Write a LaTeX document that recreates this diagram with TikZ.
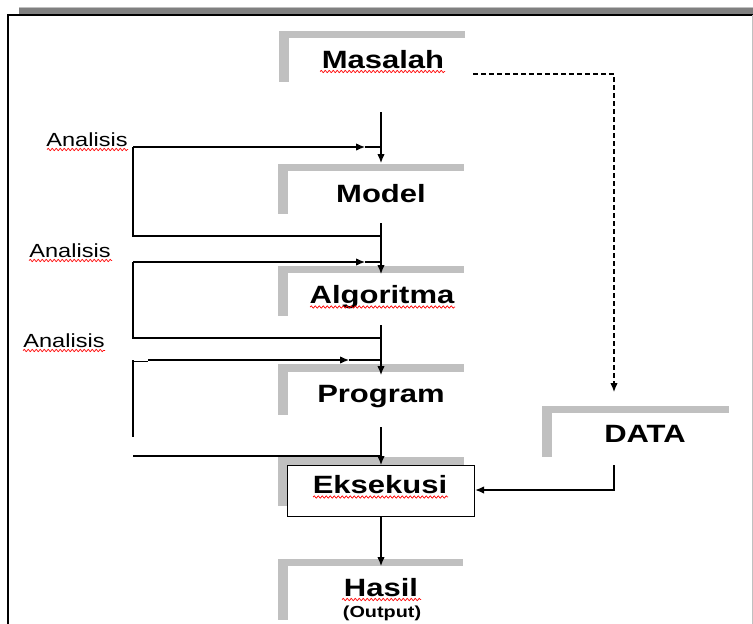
\documentclass[tikz,border=0pt]{standalone}
\usepackage{fontspec}
\setmainfont{Liberation Sans}
\usetikzlibrary{arrows.meta,decorations.pathmorphing}
\definecolor{brgray}{HTML}{C0C0C0}
\definecolor{bandgray}{HTML}{808080}
\newcommand\hstr[1]{\scalebox{1.24}[1]{#1}}
\begin{document}
\begin{tikzpicture}[x=1pt,y=-1pt,
  lbl/.style={anchor=base,inner sep=0pt,font=\fontsize{25}{25}\selectfont\bfseries},
  ana/.style={anchor=base,inner sep=0pt,font=\fontsize{19}{19}\selectfont},
  small/.style={anchor=base,inner sep=0pt,font=\fontsize{16}{16}\selectfont\bfseries},
  ln/.style={line width=1.2pt},
  arr/.style={line width=1.2pt,-{Latex[length=9pt,width=7.5pt]}},
  dsh/.style={line width=1.2pt,dash pattern=on 5pt off 3pt,-{Latex[length=9pt,width=7.5pt]}},
  wave/.style={draw=red,line width=0.7pt,decorate,decoration={snake,segment length=4pt,amplitude=1.1pt}},
  brk/.style={fill=brgray,draw=none}]
\useasboundingbox (0,0) rectangle (753,624);
% frame
\fill[bandgray] (19,7) rectangle (753,14.5);
\draw[brgray,line width=1pt] (19,7.5) -- (753,7.5);
\draw[black,line width=1.6pt] (7,15) -- (753,15);
\draw[black,line width=1.6pt] (8,15) -- (8,624);
\draw[brgray,line width=1pt] (752,15) -- (752,624);
% brackets
\fill[brk] (279,31) rectangle (465,38); \fill[brk] (279,31) rectangle (289,82);
\fill[brk] (278,164) rectangle (464,171); \fill[brk] (278,164) rectangle (288,214);
\fill[brk] (278,266) rectangle (464,273); \fill[brk] (278,266) rectangle (288,316);
\fill[brk] (278,364) rectangle (464,372); \fill[brk] (278,364) rectangle (288,415);
\fill[brk] (278,457) rectangle (464,465); \fill[brk] (278,457) rectangle (288,506);
\fill[brk] (278,559) rectangle (463,566); \fill[brk] (278,559) rectangle (288,620);
\fill[brk] (542,406) rectangle (729,413); \fill[brk] (542,406) rectangle (552,457);
% Eksekusi box
\node[draw=black,line width=1.2pt,fill=white,minimum width=187pt,minimum height=51pt,inner sep=0pt,anchor=north west] (ebox) at (287,465) {};
% labels
\node[lbl] (masalah) at (383,68) {\hstr{Masalah}};
\node[lbl] (model) at (381,202) {\hstr{Model}};
\node[lbl] (algo) at (382,303) {\hstr{Algoritma}};
\node[lbl] (prog) at (381,402) {\hstr{Program}};
\node[lbl] (eks) at (380,493) {\hstr{Eksekusi}};
\node[lbl] (hasil) at (381,596) {\hstr{Hasil}};
\node[small] (out) at (382,617) {\hstr{(Output)}};
\node[lbl] (data) at (645,442) {\hstr{DATA}};
\node[ana] (an1) at (87,146) {\hstr{Analisis}};
\node[ana] (an2) at (70,257) {\hstr{Analisis}};
\node[ana] (an3) at (64,347) {\hstr{Analisis}};
% spell-check underlines
\draw[wave] (320,71.5) -- (445,71.5);
\draw[wave] (47,149.5) -- (128,149.5);
\draw[wave] (29,260.5) -- (112,260.5);
\draw[wave] (23,350.5) -- (105,350.5);
\draw[wave] (310,307) -- (455,307);
\draw[wave] (313,497) -- (448,497);
\draw[wave] (342,599.5) -- (421,599.5);
% coordinates
\coordinate (a1) at (381,112); \coordinate (a1e) at (381,163);
\coordinate (l1s) at (133,147); \coordinate (l1m) at (365,147); \coordinate (l1e) at (381,147);
\coordinate (l1b) at (133,236); \coordinate (l1c) at (381,236);
\coordinate (a2) at (381,223); \coordinate (a2e) at (381,274);
\coordinate (l2s) at (133,262); \coordinate (l2m) at (365,262); \coordinate (l2e) at (381,262);
\coordinate (l2b) at (133,338); \coordinate (l2c) at (381,338);
\coordinate (a3) at (381,325); \coordinate (a3e) at (381,375);
\coordinate (l3a) at (133,361.5); \coordinate (l3b) at (148,361.5);
\coordinate (l3s) at (148,360); \coordinate (l3m) at (349,360); \coordinate (l3e) at (381,360);
\coordinate (l3t) at (133,360); \coordinate (l3d) at (133,437);
\coordinate (l4s) at (133,456); \coordinate (l4e) at (381,456);
\coordinate (a4) at (381,427); \coordinate (a4e) at (381,465);
\coordinate (a5) at (381,516); \coordinate (a5e) at (381,566);
\coordinate (d1) at (473,74); \coordinate (d2) at (614,74); \coordinate (d3) at (614,392);
\coordinate (e1) at (614,465); \coordinate (e2) at (614,490); \coordinate (e3) at (ebox.east |- e2);
% connectors
\draw[arr] (a1) -- (a1e);
\draw[arr] (l1s) -- (l1m); \draw[ln] (l1m) -- (l1e);
\draw[ln] (l1s) -- (l1b) -- (l1c);
\draw[arr] (a2) -- (a2e);
\draw[arr] (l2s) -- (l2m); \draw[ln] (l2m) -- (l2e);
\draw[ln] (l2s) -- (l2b) -- (l2c);
\draw[arr] (a3) -- (a3e);
\draw[ln] (l3a) -- (l3b);
\draw[arr] (l3s) -- (l3m); \draw[ln] (l3m) -- (l3e);
\draw[ln] (l3t) -- (l3d);
\draw[ln] (l4s) -- (l4e);
\draw[arr] (a4) -- (a4e);
\draw[arr] (a5) -- (a5e);
\draw[dsh] (d1) -- (d2) -- (d3);
\draw[arr] (e1) -- (e2) -- (e3);
\end{tikzpicture}
\end{document}
